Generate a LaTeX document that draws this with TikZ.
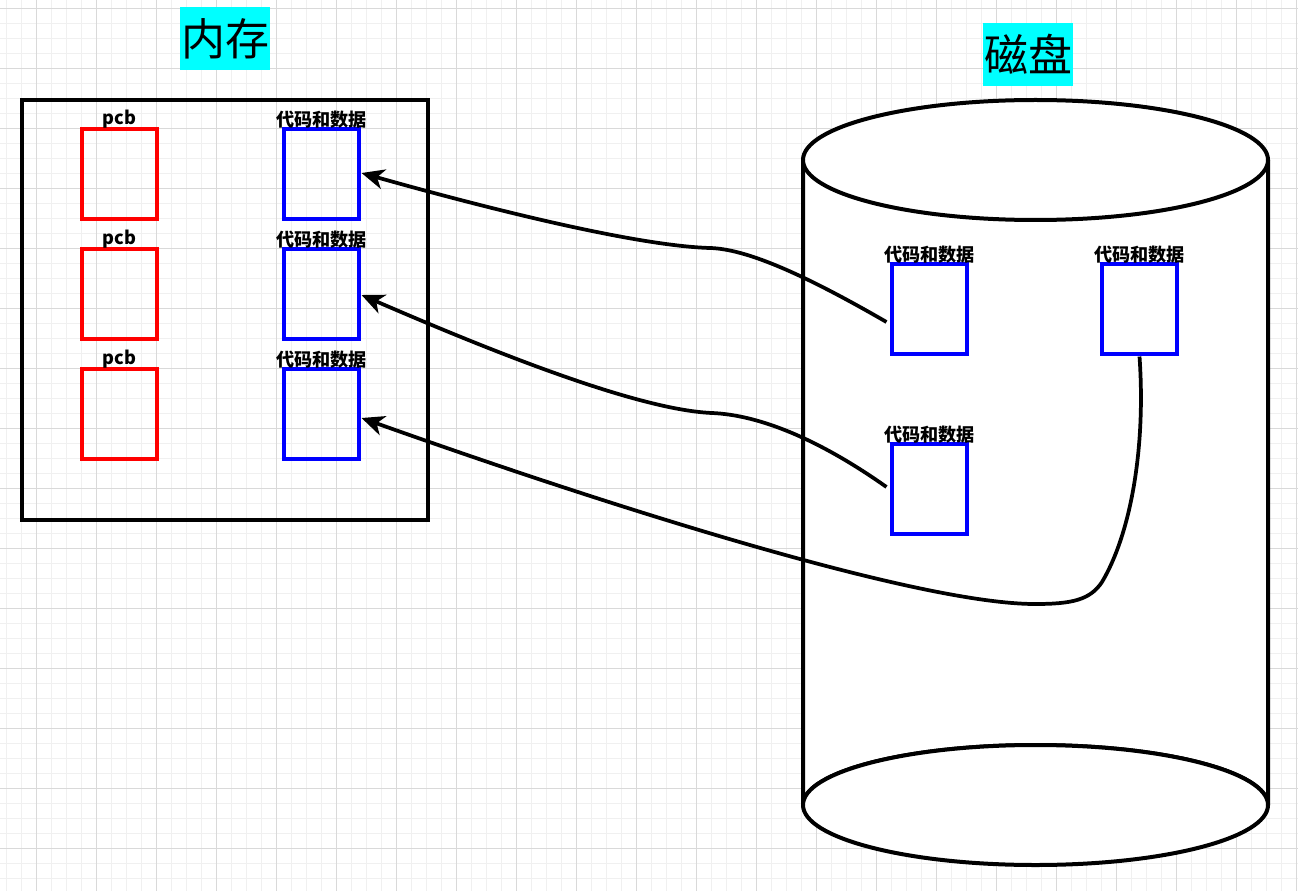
\documentclass[tikz,border=0pt]{standalone}
\usepackage{fontspec}
\setmainfont{Noto Sans CJK SC}
\usetikzlibrary{arrows.meta,calc}
\definecolor{gridmajor}{HTML}{D9D9D9}
\definecolor{gridminor}{HTML}{F0F0F0}
\definecolor{titlebg}{HTML}{00FFFF}
\begin{document}
\begin{tikzpicture}[x=0.75pt,y=-0.75pt,
  pcbbox/.style={draw=red,line width=2.3pt,minimum width=56.25pt,minimum height=67.5pt,inner sep=0pt},
  databox/.style={draw=blue,line width=2.3pt,minimum width=56.25pt,minimum height=67.5pt,inner sep=0pt},
  boxlabel/.style={font=\bfseries\fontsize{13.6pt}{15pt}\selectfont,inner sep=0pt,anchor=south,yshift=-0.5pt},
  titlebox/.style={fill=titlebg,font=\fontsize{33pt}{35pt}\selectfont,minimum width=67.5pt,minimum height=47.25pt,inner sep=0pt},
  conn/.style={line width=2.8pt,-{Stealth[length=17pt,width=15pt,inset=5pt]}},
  thick line/.style={line width=3pt}]
\useasboundingbox (0,0) rectangle (1298,891);
\fill[white] (0,0) rectangle (1298,891);
% grid
\foreach \i in {0,...,86} {\draw[gridminor,line width=0.75pt] (6.7+15*\i,0) -- (6.7+15*\i,891);}
\foreach \i in {0,...,59} {\draw[gridminor,line width=0.75pt] (0,8.3+15*\i) -- (1298,8.3+15*\i);}
\foreach \i in {0,...,21} {\draw[gridmajor,line width=0.75pt] (36.7+60*\i,0) -- (36.7+60*\i,891);}
\foreach \i in {0,...,14} {\draw[gridmajor,line width=0.75pt] (0,8.3+60*\i) -- (1298,8.3+60*\i);}
% titles
\node[titlebox] (tmem) at (225,38.5) {内存};
\node[titlebox] (tdisk) at (1028,54.5) {磁盘};
% memory
\node[draw,thick line,minimum width=304.5pt,minimum height=315pt,inner sep=0pt] (mem) at (225,310) {};
\node[pcbbox] (p1) at (119.5,174) {};
\node[pcbbox] (p2) at (119.5,294) {};
\node[pcbbox] (p3) at (119.5,414) {};
\node[databox] (m1) at (321.5,174) {};
\node[databox] (m2) at (321.5,294) {};
\node[databox] (m3) at (321.5,414) {};
\node[boxlabel] at (p1.north) {pcb};
\node[boxlabel] at (p2.north) {pcb};
\node[boxlabel] at (p3.north) {pcb};
\node[boxlabel] at (m1.north) {代码和数据};
\node[boxlabel] at (m2.north) {代码和数据};
\node[boxlabel] at (m3.north) {代码和数据};
% disk cylinder
\coordinate (ctop) at (1035.5,160);
\coordinate (cbot) at (1035.5,805);
\draw[thick line,fill=white] (803,160) -- (803,805) arc[start angle=180,end angle=360,x radius=232.5,y radius=60] -- (1268,160);
\draw[thick line,fill=white] (cbot) ellipse[x radius=232.5,y radius=60];
\draw[thick line] (803,160) -- (803,805);
\draw[thick line] (1268,160) -- (1268,805);
\draw[thick line,fill=white] (ctop) ellipse[x radius=232.5,y radius=60];
\node[databox,fill=white] (d1) at (929.5,309) {};
\node[databox,fill=white] (d2) at (1139.5,309) {};
\node[databox,fill=white] (d3) at (929.5,489) {};
\node[boxlabel] at (d1.north) {代码和数据};
\node[boxlabel] at (d2.north) {代码和数据};
\node[boxlabel] at (d3.north) {代码和数据};
% connectors
\draw[conn] ($(d1.west)+(-4,13)$) .. controls (800,272) and (745,249) .. (710,248)
  .. controls (640,246) and (500,212) .. ($(m1.east)+(1,-1)$);
\draw[conn] ($(d3.west)+(-4,-2)$) .. controls (820,440) and (760,415) .. (712,413)
  .. controls (640,410) and (500,355) .. ($(m2.east)+(1,1)$);
\draw[conn] ($(d2.south)+(0,1)$) .. controls (1146,450) and (1130,535) .. (1102,582)
  .. controls (1090,600) and (1072,604) .. (1035,604)
  .. controls (920,604) and (620,510) .. ($(m3.east)+(1,4)$);
\end{tikzpicture}
\end{document}
